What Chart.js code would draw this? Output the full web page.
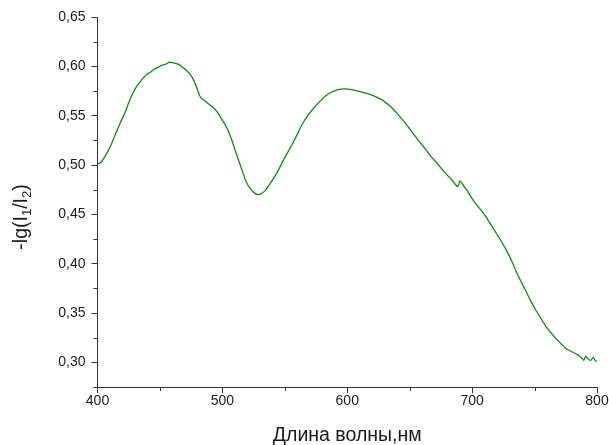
<!DOCTYPE html>
<html>
<head>
<meta charset="utf-8">
<script src="https://cdn.jsdelivr.net/npm/chart.js@4.4.1/dist/chart.umd.min.js"></script>
<style>
  body { margin: 0; background: #fff; }
  #wrap { width: 609px; height: 445px; }
</style>
</head>
<body>
<div id="wrap"><canvas id="spectrum" width="609" height="445"></canvas></div>
<script>
// спектр: длина волны (нм) и -lg(I1/I2)
const wavelength = [400, 403, 407, 410, 414, 418, 422, 425, 428, 431, 434, 436.5, 439.5, 442.4, 445.4, 448.4, 451.3, 454.3, 457.2, 459.2,
    462.2, 465.1, 468.1, 471.1, 474, 477, 479.9, 481.9, 483.9, 486.9, 489.8, 492.8, 495.7, 498.7, 501.7, 504.6, 507.6, 510.5, 513.5, 516.5,
    519.4, 522.4, 525.3, 528.3, 531.3, 534.2, 537.2, 540.2, 544.1, 548.1, 552, 555.9, 559.9, 563.8, 567.8, 572.7, 577.7, 582.6, 587.5, 591.5,
    595.4, 600.4, 605.3, 611.2, 617.1, 623.1, 629, 634.9, 640.8, 646.8, 652.7, 657.6, 662.6, 667.5, 672.4, 678.3, 682.3, 684.3, 686.2, 688.2,
    689.2, 690.2, 692.2, 694.2, 696.1, 700, 704, 707.9, 711.9, 715.8, 719.8, 723.7, 727.7, 731.6, 735.6, 739.5, 743.5, 747.4, 751.4, 755.3,
    759.3, 763.2, 767.2, 771.1, 775.1, 778, 781, 784, 786.5, 789.4, 790.8, 792.5, 794.8, 797, 798.5, 800];
const absorbance = [0.501, 0.503, 0.511, 0.518, 0.530, 0.542, 0.553, 0.563, 0.572, 0.579, 0.584, 0.588, 0.592, 0.594, 0.597, 0.599, 0.601, 0.602, 0.604, 0.604,
    0.603, 0.602, 0.599, 0.596, 0.592, 0.586, 0.577, 0.570, 0.567, 0.564, 0.561, 0.558, 0.554, 0.548, 0.542, 0.535, 0.525, 0.514, 0.503, 0.492,
    0.482, 0.476, 0.472, 0.470, 0.471, 0.474, 0.479, 0.485, 0.493, 0.503, 0.512, 0.521, 0.531, 0.541, 0.549, 0.557, 0.564, 0.570, 0.574, 0.576,
    0.577, 0.577, 0.576, 0.574, 0.572, 0.569, 0.565, 0.559, 0.551, 0.542, 0.532, 0.524, 0.516, 0.508, 0.501, 0.492, 0.487, 0.484, 0.481, 0.478,
    0.480, 0.484, 0.481, 0.477, 0.474, 0.466, 0.459, 0.453, 0.446, 0.438, 0.430, 0.422, 0.413, 0.403, 0.391, 0.381, 0.371, 0.361, 0.352, 0.344,
    0.336, 0.330, 0.324, 0.319, 0.314, 0.312, 0.310, 0.308, 0.306, 0.302, 0.306, 0.304, 0.302, 0.305, 0.302, 0.301];

const xTicks = [400, 500, 600, 700, 800];
const xMinorTicks = [450, 550, 650, 750];
const yTicks = [0.30, 0.35, 0.40, 0.45, 0.50, 0.55, 0.60, 0.65];
const yMinorTicks = [0.275, 0.325, 0.375, 0.425, 0.475, 0.525, 0.575, 0.625];

const axisColor = '#333333';
const textColor = '#1a1a1a';

// короткие промежуточные штрихи и подпись оси Y с индексами
const axisExtras = {
    id: 'axisExtras',
    afterDraw(chart) {
        const ctx = chart.ctx;
        const xs = chart.scales.x, ys = chart.scales.y;
        ctx.save();
        ctx.strokeStyle = axisColor;
        ctx.lineWidth = 1;
        ctx.beginPath();
        xMinorTicks.forEach(v => {
            const px = Math.round(xs.getPixelForValue(v)) + 0.5;
            ctx.moveTo(px, xs.top);
            ctx.lineTo(px, xs.top + 4);
        });
        yMinorTicks.forEach(v => {
            const py = Math.round(ys.getPixelForValue(v)) + 0.5;
            ctx.moveTo(ys.right, py);
            ctx.lineTo(ys.right - 4, py);
        });
        ctx.stroke();

        // -lg(I1/I2), повернуто на 90°
        const parts = [
            { t: '-lg(I', sub: false },
            { t: '1', sub: true },
            { t: '/I', sub: false },
            { t: '2', sub: true },
            { t: ')', sub: false }
        ];
        const mainFont = '19.5px "Liberation Sans", Arial, sans-serif';
        const subFont = '13px "Liberation Sans", Arial, sans-serif';
        let total = 0;
        parts.forEach(p => {
            ctx.font = p.sub ? subFont : mainFont;
            p.w = ctx.measureText(p.t).width;
            total += p.w;
        });
        ctx.translate(22, 217);
        ctx.rotate(-Math.PI / 2);
        ctx.fillStyle = textColor;
        ctx.textBaseline = 'middle';
        let cx = -total / 2;
        parts.forEach(p => {
            ctx.font = p.sub ? subFont : mainFont;
            ctx.fillText(p.t, cx, p.sub ? 5 : 0);
            cx += p.w;
        });
        ctx.restore();
    }
};

const ctx = document.getElementById('spectrum').getContext('2d');
const chart = new Chart(ctx, {
    type: 'line',
    data: {
        datasets: [{
            data: wavelength.map((w, i) => ({ x: w, y: absorbance[i] })),
            borderColor: '#128812',
            borderWidth: 1.3,
            pointRadius: 0,
            tension: 0.25,
            fill: false
        }]
    },
    options: {
        responsive: false,
        animation: false,
        layout: { padding: { top: 17, right: 12, left: 0, bottom: 0 } },
        plugins: {
            legend: { display: false },
            tooltip: { enabled: false }
        },
        scales: {
            x: {
                type: 'linear',
                min: 400,
                max: 800,
                afterBuildTicks: scale => { scale.ticks = xTicks.map(v => ({ value: v })); },
                afterFit: scale => { scale.height = 58; },
                ticks: {
                    color: textColor,
                    font: { family: '"Liberation Sans", Arial, sans-serif', size: 14 },
                    padding: 0,
                    maxRotation: 0,
                    autoSkip: false
                },
                grid: { drawOnChartArea: false, tickLength: 6, color: axisColor },
                border: { color: axisColor, width: 1 },
                title: {
                    display: true,
                    text: 'Длина волны,нм',
                    color: textColor,
                    font: { family: '"Liberation Sans", Arial, sans-serif', size: 19.5, lineHeight: 1 },
                    padding: { top: 0, bottom: 0 }
                }
            },
            y: {
                min: 0.275,
                max: 0.65,
                afterBuildTicks: scale => { scale.ticks = yTicks.map(v => ({ value: v })); },
                afterFit: scale => { scale.width = 97.5; },
                ticks: {
                    color: textColor,
                    font: { family: '"Liberation Sans", Arial, sans-serif', size: 14 },
                    padding: 6,
                    autoSkip: false,
                    callback: v => v.toFixed(2).replace('.', ',')
                },
                grid: { drawOnChartArea: false, tickLength: 6, color: axisColor },
                border: { color: axisColor, width: 1 }
            }
        }
    },
    plugins: [axisExtras]
});
</script>
</body>
</html>
